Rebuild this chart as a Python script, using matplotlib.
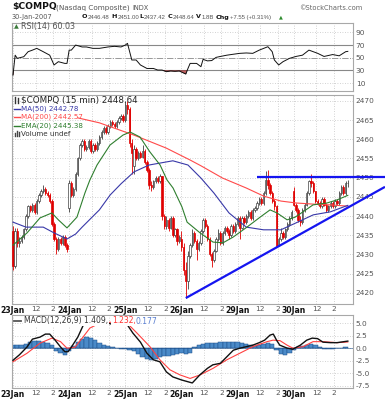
import numpy as np
import matplotlib
matplotlib.use("Agg")
import matplotlib.pyplot as plt
from matplotlib.lines import Line2D
from matplotlib import font_manager

plt.rcParams['font.family'] = ['DejaVu Sans']

W, H = 385, 400

# ---------------- data ----------------
days = ["23Jan", "24Jan", "25Jan", "26Jan", "29Jan", "30Jan"]
bars_per_day = 26
intraday_ticks = [(10.5, "12"), (18.5, "2")]

open_23 = [2436, 2427, 2436, 2433, 2433.5, 2434.5, 2436.5, 2440, 2442.5, 2441.5, 2443, 2441, 2444, 2445.5, 2446.5, 2447, 2446, 2445.5, 2444, 2438, 2434, 2431.5, 2434, 2433, 2434.5, 2432.5]
high_23 = [2437.5, 2437, 2437, 2434.5, 2435, 2437, 2440.5, 2443, 2443, 2443.5, 2443.5, 2444.5, 2446, 2447, 2448, 2447.5, 2446.5, 2446, 2444.5, 2438.5, 2434.5, 2434.5, 2434.5, 2435, 2435, 2433]
low_23 = [2426, 2426.5, 2432, 2432, 2433, 2434, 2436, 2439.5, 2441, 2441, 2440.5, 2440.5, 2443.5, 2445, 2446, 2445.5, 2445, 2443.5, 2437.5, 2433.5, 2430, 2431, 2432.5, 2432.5, 2432, 2430.5]
close_23 = [2427, 2436, 2433, 2433.5, 2434.5, 2436.5, 2440, 2442.5, 2441.5, 2443, 2441, 2444, 2445.5, 2446.5, 2447, 2446, 2445.5, 2444, 2438, 2434, 2431.5, 2434, 2433, 2434.5, 2432.5, 2431.5]

open_24 = [2442, 2448.5, 2445.5, 2447, 2451, 2455, 2458.5, 2459.5, 2457.5, 2458, 2459.5, 2457, 2458.5, 2457.5, 2459, 2460.5, 2462, 2463, 2462, 2463.5, 2464.5, 2464, 2463.5, 2464.5, 2465.5, 2466]
high_24 = [2449.5, 2449, 2447.5, 2451.5, 2455.5, 2459, 2460, 2460, 2458.5, 2460, 2460, 2459, 2459, 2459.5, 2461, 2462.5, 2463.5, 2463.5, 2464, 2465, 2465, 2464.5, 2465, 2466, 2466.5, 2466.5]
low_24 = [2441, 2445, 2445, 2446.5, 2450.5, 2454.5, 2458, 2457, 2457, 2457.5, 2456.5, 2456.5, 2457, 2457, 2458.5, 2460, 2461.5, 2461.5, 2461.5, 2463, 2463.5, 2463, 2463, 2464, 2465, 2464.5]
close_24 = [2448.5, 2445.5, 2447, 2451, 2455, 2458.5, 2459.5, 2457.5, 2458, 2459.5, 2457, 2458.5, 2457.5, 2459, 2460.5, 2462, 2463, 2462, 2463.5, 2464.5, 2464, 2463.5, 2464.5, 2465.5, 2466, 2465]

open_25 = [2465, 2469, 2468, 2459, 2453, 2457.5, 2455, 2456.5, 2455.5, 2457, 2454, 2452, 2448, 2447.5, 2449, 2450, 2449, 2450.5, 2440, 2437.5, 2439, 2437, 2439.5, 2435, 2436.5, 2433.5]
high_25 = [2470, 2470, 2468.5, 2460, 2458.5, 2458, 2457, 2457, 2458.5, 2457.5, 2454.5, 2452.5, 2449, 2449.5, 2450.5, 2450.5, 2451, 2450.5, 2440.5, 2440, 2439.5, 2440, 2440, 2437, 2437, 2435]
low_25 = [2464.5, 2466.5, 2458, 2451, 2451, 2454.5, 2454.5, 2455, 2455, 2453.5, 2451.5, 2447, 2446.5, 2447, 2448.5, 2448.5, 2448.5, 2439, 2436.5, 2436.5, 2436, 2436.5, 2434.5, 2434.5, 2432.5, 2433]
close_25 = [2469, 2468, 2459, 2456.5, 2457.5, 2455, 2456.5, 2455.5, 2457, 2454, 2452, 2448, 2447.5, 2449, 2450, 2449, 2450.5, 2440, 2437.5, 2439, 2437, 2439.5, 2435, 2436.5, 2433.5, 2434.5]

open_26 = [2434, 2432, 2426, 2423, 2429.5, 2432.5, 2435.5, 2433.5, 2431.5, 2433, 2436, 2439, 2437.5, 2434, 2430, 2428.5, 2431, 2434, 2435.5, 2433, 2435.5, 2437, 2436, 2435, 2437.5, 2436]
high_26 = [2436, 2433, 2428, 2431, 2433, 2436.5, 2436, 2434, 2433.5, 2436.5, 2439.5, 2439.5, 2438, 2434.5, 2430.5, 2431.5, 2434.5, 2436.5, 2436, 2436, 2437.5, 2437.5, 2436.5, 2438, 2438, 2438.5]
low_26 = [2431, 2424.5, 2418.6, 2421, 2429, 2432, 2433, 2428.5, 2431, 2432.5, 2435.5, 2437, 2433.5, 2429.5, 2426.7, 2428, 2430.5, 2433.5, 2432.5, 2432.5, 2435, 2435.5, 2434, 2434.5, 2435.5, 2435.5]
close_26 = [2432, 2426, 2423, 2429.5, 2432.5, 2435.5, 2433.5, 2431.5, 2433, 2436, 2439, 2437.5, 2434, 2430, 2428.5, 2431, 2434, 2435.5, 2433, 2435.5, 2437, 2436, 2435, 2437.5, 2436, 2438]

open_29 = [2438, 2439.5, 2437, 2439.5, 2438.5, 2440, 2441, 2439.5, 2441.5, 2442, 2443.5, 2444.5, 2443.5, 2446, 2449.5, 2448, 2446, 2444, 2442.5, 2432.3, 2434, 2435.5, 2434.5, 2436.5, 2438, 2439.5]
high_29 = [2440, 2440, 2440, 2440, 2440.5, 2441.5, 2441.5, 2442, 2442.5, 2444, 2445, 2445, 2446.5, 2451.8, 2452, 2448.5, 2446.5, 2444.5, 2443, 2434.5, 2437, 2436, 2437, 2438.5, 2440, 2441.5]
low_29 = [2437.5, 2434, 2436.5, 2438, 2438, 2439.5, 2439, 2439, 2441, 2441.5, 2443, 2443, 2443, 2445.5, 2447, 2445.5, 2443.5, 2441.5, 2431.8, 2432.2, 2433.5, 2434, 2434, 2436, 2437.5, 2439]
close_29 = [2439.5, 2437, 2439.5, 2438.5, 2440, 2441, 2439.5, 2441.5, 2442, 2443.5, 2444.5, 2443.5, 2446, 2449.5, 2448, 2446, 2444, 2442.5, 2432.3, 2434, 2435.5, 2434.5, 2436.5, 2438, 2439.5, 2441.09]

open_30 = [2446.48, 2443, 2441.5, 2439, 2438.5, 2441.5, 2443, 2446, 2449, 2448.5, 2446.5, 2444, 2443.5, 2442.5, 2444.5, 2443, 2441.5, 2442.5, 2443.5, 2442.5, 2444, 2443.5, 2446, 2447.5, 2446, 2448.5]
high_30 = [2447.5, 2443.5, 2442, 2440, 2442, 2443.5, 2446.5, 2449.5, 2451, 2449, 2446.5, 2444.5, 2444, 2445, 2445, 2443.5, 2443, 2444, 2444, 2444.5, 2444.5, 2446.5, 2448, 2448, 2449, 2449.5]
low_30 = [2442.5, 2441, 2438.5, 2437.42, 2438, 2441, 2442.5, 2445.5, 2447.5, 2446, 2443.5, 2443, 2442, 2442, 2442.5, 2441, 2441, 2442, 2442, 2442, 2443, 2443, 2445.5, 2445.5, 2445.5, 2447.5]
close_30 = [2443, 2441.5, 2439, 2438.5, 2441.5, 2443, 2446, 2449, 2448.5, 2446.5, 2444, 2443.5, 2442.5, 2444.5, 2443, 2441.5, 2442.5, 2443.5, 2442.5, 2444, 2443.5, 2446, 2447.5, 2446, 2448.5, 2448.64]

# moving averages (bar index, value)
ma50_i = [0, 6, 14, 19, 25, 29, 32, 40, 45, 50, 56, 63, 74, 81, 87, 93, 100, 108, 116, 124, 131, 139, 147, 155]
ma50_v = [2438.4, 2437.1, 2437.1, 2435.6, 2434.0, 2435.3, 2437.1, 2441.6, 2445.5, 2448.4, 2451.5, 2453.3, 2454.4, 2453.3, 2449.9, 2446.0, 2440.8, 2437.1, 2436.4, 2436.4, 2438.2, 2440.3, 2441.1, 2442.78]
ma200_i = [30, 40, 56, 71, 82, 87, 97, 108, 116, 124, 131, 139, 147, 155]
ma200_v = [2465.6, 2464.3, 2461.1, 2457.7, 2454.6, 2453.1, 2449.9, 2447.3, 2445.2, 2443.9, 2443.4, 2443.1, 2442.9, 2442.57]
ema20_i = [0, 6.5, 12.5, 18, 21, 25, 29.6, 33.3, 35.6, 38.9, 44.9, 50.9, 54.2, 58.8, 63.4, 68.1, 71.3, 74.1, 78.2, 80.6,
           86.6, 92.6, 97.2, 101.9, 108.3, 114.4, 119, 122.2, 126.9, 130.6, 134.3, 138.9, 145.4, 150, 155]
ema20_v = [2432.4, 2435.6, 2439.5, 2440.8, 2439.0, 2436.9, 2439.7, 2446.0, 2449.4, 2453.3, 2458.5, 2461.1, 2461.9, 2460.6, 2456.7, 2453.3, 2449.4, 2447.3, 2442.4, 2438.4,
           2435.6, 2433.2, 2433.0, 2434.5, 2437.1, 2439.7, 2441.6, 2440.8, 2439.0, 2439.7, 2441.1, 2442.9, 2443.4, 2444.2, 2445.38]

# drawn trend lines (bar index, price)
resist_x = [113, 172.2]
resist_y = [2450.3, 2450.3]
trend_x = [80, 172.2]
trend_y = [2418.6, 2447.6]

# RSI(14)
rsi_i = [0, 1, 2, 5, 7, 9, 11, 14, 17, 19, 21, 24, 25, 26, 27, 29, 32, 34, 37, 40, 44, 47, 50, 52, 53, 55, 57, 59, 62, 65,
         67, 69, 71, 73, 75, 77, 80, 81, 82, 85, 87, 88, 90, 92, 94, 96, 99, 102, 105, 108, 111, 114, 118, 120, 121, 123, 125, 128, 131, 134,
         137, 141, 144, 148, 151, 154, 155]
rsi_v = [22.6, 54, 49, 51.6, 59.5, 62, 64.8, 59.5, 54, 38.5, 43.7, 41, 41, 62, 62, 70, 67, 67, 64.8, 64.8, 67, 68, 67, 70, 72.7, 46.4, 46.4, 38.5, 33, 33,
         30.5, 30.5, 27.9, 29, 28.5, 29, 24.2, 33, 41, 41, 35.8, 47.4, 45, 45.5, 50.5, 52, 54, 55.5, 56.9, 57.5, 56.9, 62, 67.4, 59.5, 46.4, 38.5, 43.7, 49, 52, 54,
         62, 57, 52, 55, 53, 59.5, 60.03]

# MACD(12,26,9)
macd_i = [0, 3, 6.5, 9, 12.5, 15, 17, 19.5, 22, 24, 25.5, 27, 30, 33, 40, 47, 53, 55.5, 59, 62, 65, 68, 71, 74, 78, 80.5, 83, 86.5, 90, 92.5,
          96, 99, 102, 105, 108, 111, 114, 116.5, 119, 120.5, 122, 123.5, 127, 129.5, 133, 136, 138.5, 141, 143.5, 147, 150, 155]
macd_v = [-2.4, -1.3, 0.25, 1.8, 2.2, 2.8, 2.8, 1.6, 0.25, -0.7, -0.7, 0.2, 2.2, 5.0, 5.5, 4.6, 4.6, 3.0, 1.2, -1.0, -2.3, -2.7, -4.7, -5.7, -6.3, -6.6, -6.9, -5.3, -4.0, -3.3,
          -3.0, -1.7, -0.4, 0.0, 0.3, 0.6, 1.1, 1.6, 2.6, 2.8, 1.6, 0.6, 0.0, -0.2, 0.6, 1.6, 2.0, 1.9, 1.2, 1.1, 1.1, 1.409]
sig_i = [0, 6.5, 12.5, 18, 22, 25, 28.7, 32.4, 35.6, 40.3, 47.2, 52.8, 57.4, 63.4, 68, 72.7, 77.3, 82, 86.6, 92.6, 99, 105, 111, 117.6, 120.4,
         123.6, 126.9, 129.6, 134.3, 138.9, 143.5, 150, 155]
sig_v = [-2.7, -1.0, 1.0, 2.0, 1.3, 0.0, 0.2, 2.2, 4.0, 5.0, 5.2, 5.0, 3.0, 0.3, -2.3, -4.3, -5.3, -6.0, -5.3, -4.0, -2.3, -1.0, 0.3, 1.3, 1.6,
         1.5, 0.6, 0.0, 0.3, 1.3, 1.3, 1.1, 1.232]
hist_v = [0.6, 0.6, 0.7, 0.9, 1.3, 1.5, 1.4, 1.3, 1.1, 0.6,
          -0.5, -1.0, -1.3, -0.6, 0.4, 1.2, 1.8, 2.2, 2.0, 1.6,
          1.0, 0.6, 0.4, 0.2, 0.0, -0.1, -0.1, -0.3, -0.6, -1.2,
          -1.8, -2.2, -2.3, -2.1, -1.8, -1.6, -1.5, -1.3, -1.1, -1.0,
          -1.2, -0.9, 0.2, 0.6, 0.9, 1.1, 1.0, 1.1, 1.2, 1.2,
          1.3, 1.3, 1.2, 1.0, 0.8, 0.6, 0.5, 0.7, 0.9, 1.1,
          0.9, -0.4, -1.1, -1.3, -0.9, -0.4, 0.2, 0.5, 0.7, 0.9,
          0.7, 0.3, -0.1, -0.2, -0.2, 0.0, 0.1, 0.18]
hist_step = 2

main_yticks = [2420, 2425, 2430, 2435, 2440, 2445, 2450, 2455, 2460, 2465, 2470]
rsi_yticks = [10, 30, 50, 70, 90]
macd_yticks = [5.0, 2.5, 0.0, -2.5, -5.0, -7.5]

# ---------------- assemble ----------------
opens = np.array(open_23 + open_24 + open_25 + open_26 + open_29 + open_30, float)
highs = np.array(high_23 + high_24 + high_25 + high_26 + high_29 + high_30, float)
lows = np.array(low_23 + low_24 + low_25 + low_26 + low_29 + low_30, float)
closes = np.array(close_23 + close_24 + close_25 + close_26 + close_29 + close_30, float)
n = min(len(opens), len(highs), len(lows), len(closes))
opens, highs, lows, closes = opens[:n], highs[:n], lows[:n], closes[:n]
idx = np.arange(n)

tick_pos, tick_lab = [], []
for d, name in enumerate(days):
    base = d * bars_per_day
    tick_pos.append(base)
    tick_lab.append(name)
    for off, lab in intraday_ticks:
        tick_pos.append(base + off)
        tick_lab.append(lab)

names = {f.name for f in font_manager.fontManager.ttflist}
narrow = ['Liberation Sans Narrow', 'DejaVu Sans'] if 'Liberation Sans Narrow' in names else ['Liberation Sans', 'DejaVu Sans']
num_size = 5.0 if 'Liberation Sans Narrow' in names else 4.3

fig = plt.figure(figsize=(W / 100, H / 100), dpi=100)
fig.patch.set_facecolor('white')


def rect(x0, y0, x1, y1):
    return [x0 / W, 1 - y1 / H, (x1 - x0) / W, (y1 - y0) / H]


def fx(x):
    return x / W


def fy(y):
    return 1 - y / H


XMIN, XMAX = -0.46, 157.4
grid_kw = dict(color='#c4c4c4', lw=0.6, ls=(0, (1, 2)))


def style(ax, yticks, ylabels, ylim, xlabels):
    ax.set_xlim(XMIN, XMAX)
    ax.set_ylim(*ylim)
    ax.yaxis.tick_right()
    ax.set_yticks(yticks)
    ax.set_yticklabels(ylabels)
    ax.tick_params(axis='y', length=0, pad=2, labelsize=5.3, labelcolor='#555')
    ax.tick_params(axis='x', length=0, pad=1.5)
    for s in ax.spines.values():
        s.set_color('#a8a8a8')
        s.set_linewidth(0.8)
    ax.set_xticks(tick_pos)
    if xlabels:
        ax.set_xticklabels(tick_lab)
        for t, lab in zip(ax.get_xticklabels(), tick_lab):
            if 'Jan' in lab:
                t.set_fontweight('bold')
                t.set_fontsize(5.6)
                t.set_color('#111')
            else:
                t.set_fontsize(5.3)
                t.set_color('#555')
    else:
        ax.set_xticklabels([])
    for t in tick_pos:
        ax.axvline(t, zorder=0, **grid_kw)
    for v in yticks:
        ax.axhline(v, zorder=0, **grid_kw)


# ---------- RSI panel ----------
ax_rsi = fig.add_axes(rect(12, 23, 353, 91))
style(ax_rsi, rsi_yticks, [str(v) for v in rsi_yticks], (-2.65, 104.9), False)
ax_rsi.axhline(70, color='#888', lw=0.8, zorder=1)
ax_rsi.axhline(30, color='#888', lw=0.8, zorder=1)
ax_rsi.axhline(50, color='#999', lw=0.7, ls='-.', zorder=1)
rsi_x = np.array(rsi_i, float)
rsi_y = np.array(rsi_v, float)
ax_rsi.fill_between(rsi_x, rsi_y, 30, where=rsi_y < 30, interpolate=True,
                    color='#c06060', edgecolor='#804040', lw=0.4, zorder=2)
ax_rsi.plot(rsi_x, rsi_y, color='#111', lw=0.7, zorder=3)

# ---------- main panel ----------
ax = fig.add_axes(rect(12, 95, 353, 304))
style(ax, main_yticks, [str(v) for v in main_yticks], (2417.05, 2471.56), True)

up = closes >= opens
edge_cols = np.where(up, '#404040', '#e00000')
face_cols = np.where(up, 'white', '#e00000')
ax.vlines(idx, lows, highs, colors=edge_cols, lw=0.6, zorder=3)
ax.bar(idx, np.maximum(np.abs(closes - opens), 0.15), bottom=np.minimum(opens, closes),
       width=0.62, color=face_cols, edgecolor=edge_cols, linewidth=0.5, zorder=4)

ax.plot(ma200_i, ma200_v, color='#ff4a4a', lw=0.8, zorder=5)
ax.plot(ma50_i, ma50_v, color='#3838a8', lw=0.8, zorder=5)
ax.plot(ema20_i, ema20_v, color='#2f7f2f', lw=0.8, zorder=5)

ax.plot(resist_x, resist_y, color='#1515f0', lw=1.6, zorder=6, clip_on=False, solid_capstyle='butt')
ax.plot(trend_x, trend_y, color='#1515f0', lw=1.6, zorder=6, clip_on=False, solid_capstyle='butt')

# legend of main panel
fig.text(fx(21), fy(100), "$COMPQ (15 min) 2448.64", fontsize=6.3, color='#222', va='center', ha='left')
fig.add_artist(Line2D([fx(15), fx(15)], [fy(97), fy(103)], color='#333', lw=1.0))
fig.add_artist(Line2D([fx(18), fx(18)], [fy(98), fy(102.5)], color='#333', lw=1.0))
legend_items = [("MA(50) 2442.78", '#3838a8', 108.5),
                ("MA(200) 2442.57", '#ff4a4a', 117),
                ("EMA(20) 2445.38", '#2f7f2f', 125.5)]
for txt, col, yy in legend_items:
    fig.add_artist(Line2D([fx(14), fx(20)], [fy(yy), fy(yy)], color=col, lw=1.0))
    fig.text(fx(21), fy(yy), txt, fontsize=5.1, color=col, va='center', ha='left')
for k, hh in enumerate([3, 5, 4]):
    xx = 14.5 + 2 * k
    fig.add_artist(Line2D([fx(xx), fx(xx)], [fy(136), fy(136 - hh)], color='#444', lw=1.0))
fig.text(fx(21), fy(133.5), "Volume undef", fontsize=5.1, color='#333', va='center', ha='left')

# ---------- MACD panel ----------
axm = fig.add_axes(rect(12, 315, 353, 388))
style(axm, macd_yticks, ["%.1f" % v for v in macd_yticks], (-7.9, 6.59), True)
hist_x = np.arange(len(hist_v)) * hist_step
axm.bar(hist_x, hist_v, width=hist_step, color='#4a8ac8', edgecolor='#1d4f8a', linewidth=0.35, zorder=2)
axm.axhline(0, color='#1d4f8a', lw=0.4, zorder=2)
axm.plot(sig_i, sig_v, color='#ff4040', lw=0.8, zorder=3)
axm.plot(macd_i, macd_v, color='#111', lw=1.0, zorder=4)

fig.add_artist(Line2D([fx(14), fx(21)], [fy(321), fy(321)], color='#555', lw=1.3))
bb = dict(facecolor='white', edgecolor='none', pad=0.6)
fig.text(fx(24), fy(321), "MACD(12,26,9) 1.409,", fontsize=5.5, color='#333', va='center', ha='left', bbox=bb)
fig.text(fx(112), fy(321), "1.232,", fontsize=5.5, color='#ff3030', va='center', ha='left', bbox=bb)
fig.text(fx(136), fy(321), "0.177", fontsize=5.5, color='#5a7fd0', va='center', ha='left', bbox=bb)

# RSI label
fig.text(fx(14), fy(27), "▲", fontsize=4.5, color='#3a7a3a', va='center', ha='left')
fig.text(fx(21), fy(27), "RSI(14) 60.03", fontsize=5.8, color='#555', va='center', ha='left')

# ---------- header ----------
fig.text(fx(12), fy(7), "$COMPQ", fontsize=6.6, fontweight='bold', color='#111', va='center', ha='left')
fig.text(fx(56), fy(7.5), "(Nasdaq Composite)", fontsize=5.2, color='#555', va='center', ha='left')
fig.text(fx(132), fy(7.5), "INDX", fontsize=4.8, color='#555', va='center', ha='left')
fig.text(fx(362), fy(7.5), "©StockCharts.com", fontsize=4.8, color='#666', va='center', ha='right')
fig.text(fx(12), fy(17), "30-Jan-2007", fontsize=4.8, color='#555', va='center', ha='left')
header_parts = [(82, "O", True), (88, "2446.48", False), (111.5, "H", True), (117.5, "2451.00", False),
                (139.5, "L", True), (144, "2437.42", False), (167.5, "C", True), (173, "2448.64", False),
                (196, "V", True), (202, "1.8B", False), (216, "Chg", True), (230.5, "+7.55 (+0.31%)", False)]
for xx, txt, bold in header_parts:
    if bold:
        fig.text(fx(xx), fy(17), txt, fontsize=4.6, fontweight='bold', color='#111', va='center', ha='left')
    else:
        fig.text(fx(xx), fy(17.3), txt, fontsize=num_size, family=narrow, color='#555', va='center', ha='left')
fig.text(fx(279), fy(17), "▲", fontsize=3.6, color='#2a8a2a', va='center', ha='left')

fig.savefig("out.png", dpi=100, facecolor='white')
